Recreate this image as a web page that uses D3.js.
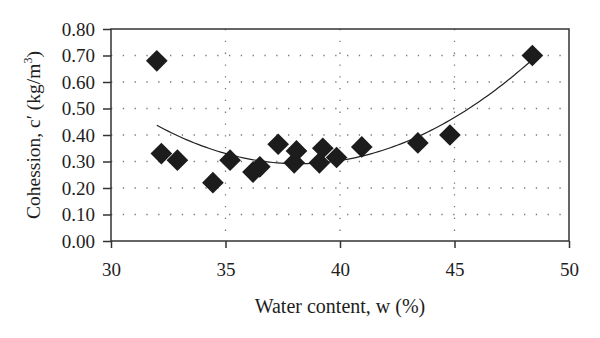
<!DOCTYPE html>
<html>
<head>
<meta charset="utf-8">
<script src="https://cdn.jsdelivr.net/npm/d3@7"></script>
<style>
  html, body { margin: 0; padding: 0; background: #fff; }
  svg { display: block; }
  text { font-family: "Liberation Serif", "DejaVu Serif", serif; fill: #1e1e1e; }
</style>
</head>
<body>
<svg id="chart" width="600" height="338"></svg>
<script>
// Water content (%) and cohesion c' (kg/m^3) for each specimen
const waterContent = [32.0, 32.2, 32.9, 34.45, 35.2, 36.2, 36.5, 37.3, 38.0, 38.1, 39.1, 39.25, 39.85, 40.95, 43.4, 44.8, 48.4];
const cohesion     = [0.68, 0.33, 0.305, 0.22, 0.305, 0.26, 0.28, 0.365, 0.295, 0.34, 0.295, 0.35, 0.315, 0.355, 0.37, 0.40, 0.70];

const xTicks = [30, 35, 40, 45, 50];
const yTicks = [0, 0.1, 0.2, 0.3, 0.4, 0.5, 0.6, 0.7, 0.8];

const margin = { left: 111, right: 31, top: 29, bottom: 97 };
const W = 600, H = 338;
const iw = W - margin.left - margin.right;
const ih = H - margin.top - margin.bottom;
const serif = '"Liberation Serif", "DejaVu Serif", serif';

const svg = d3.select("#chart");
const g = svg.append("g").attr("transform", `translate(${margin.left},${margin.top})`);

const x = d3.scaleLinear().domain([30, 50]).range([0, iw]);
const y = d3.scaleLinear().domain([0, 0.8]).range([ih, 0]);

// dotted grid
g.append("g").selectAll("line").data(yTicks.filter(v => v > 0 && v < 0.8)).join("line")
  .attr("x1", 0).attr("x2", iw)
  .attr("y1", d => y(d)).attr("y2", d => y(d))
  .attr("stroke", "#777").attr("stroke-width", 1.3)
  .attr("stroke-dasharray", "1.3,10.5");
g.append("g").selectAll("line").data(xTicks.filter(v => v > 30 && v < 50)).join("line")
  .attr("x1", d => x(d)).attr("x2", d => x(d))
  .attr("y1", 0).attr("y2", ih)
  .attr("stroke", "#777").attr("stroke-width", 1.3)
  .attr("stroke-dasharray", "1.3,10.5");

// axes
const xAxis = g.append("g").attr("transform", `translate(0,${ih})`)
  .call(d3.axisBottom(x).tickValues(xTicks).tickFormat(d3.format("d")).tickSize(7).tickPadding(15));
const yAxis = g.append("g")
  .call(d3.axisLeft(y).tickValues(yTicks).tickFormat(d3.format(".2f")).tickSize(8).tickPadding(8));
[xAxis, yAxis].forEach(a => {
  a.selectAll("path.domain").remove();
  a.selectAll("line").attr("stroke", "#333").attr("stroke-width", 1.5);
  a.selectAll("text").attr("font-size", 19).attr("fill", "#1e1e1e")
    .style("font-family", serif);
});

// frame
g.append("rect").attr("x", 0).attr("y", 0).attr("width", iw).attr("height", ih)
  .attr("fill", "none").attr("stroke", "#333").attr("stroke-width", 1.5);

// second-order polynomial trend (least squares)
function polyFit2(xs, ys) {
  let n = xs.length, s = [0, 0, 0, 0, 0], t = [0, 0, 0];
  for (let i = 0; i < n; i++) {
    const xv = xs[i], yv = ys[i];
    for (let k = 0; k <= 4; k++) s[k] += Math.pow(xv, k);
    for (let k = 0; k <= 2; k++) t[k] += Math.pow(xv, k) * yv;
  }
  const A = [[s[0], s[1], s[2], t[0]], [s[1], s[2], s[3], t[1]], [s[2], s[3], s[4], t[2]]];
  for (let c = 0; c < 3; c++) {
    let p = c;
    for (let r = c + 1; r < 3; r++) if (Math.abs(A[r][c]) > Math.abs(A[p][c])) p = r;
    [A[c], A[p]] = [A[p], A[c]];
    for (let r = 0; r < 3; r++) {
      if (r === c) continue;
      const f = A[r][c] / A[c][c];
      for (let k = c; k < 4; k++) A[r][k] -= f * A[c][k];
    }
  }
  return [A[0][3] / A[0][0], A[1][3] / A[1][1], A[2][3] / A[2][2]];
}
const coef = polyFit2(waterContent, cohesion);
const [xMin, xMax] = d3.extent(waterContent);
const trend = d3.range(0, 101).map(i => {
  const xv = xMin + (xMax - xMin) * i / 100;
  return [xv, coef[0] + coef[1] * xv + coef[2] * xv * xv];
});
g.append("path").datum(trend)
  .attr("fill", "none").attr("stroke", "#222").attr("stroke-width", 1.2)
  .attr("d", d3.line().x(d => x(d[0])).y(d => y(d[1])));

// diamond markers
const pts = waterContent.map((w, i) => ({ w, c: cohesion[i] }));
g.append("g").selectAll("path").data(pts).join("path")
  .attr("transform", d => `translate(${x(d.w)},${y(d.c)})`)
  .attr("d", d3.symbol(d3.symbolDiamond2, 300)())
  .attr("fill", "#1c1c1c");

// axis titles
svg.append("text")
  .attr("x", margin.left + iw / 2).attr("y", 313)
  .attr("text-anchor", "middle").attr("font-size", 20)
  .text("Water content, w (%)");

const yt = svg.append("text")
  .attr("transform", `translate(40,${margin.top + ih / 2}) rotate(-90)`)
  .attr("text-anchor", "middle").attr("font-size", 19.5);
yt.append("tspan").text("Cohession, c\u2032 (kg/m");
yt.append("tspan").attr("font-size", 12).attr("dy", -8).text("3");
yt.append("tspan").attr("dy", 8).text(")");
</script>
</body>
</html>
